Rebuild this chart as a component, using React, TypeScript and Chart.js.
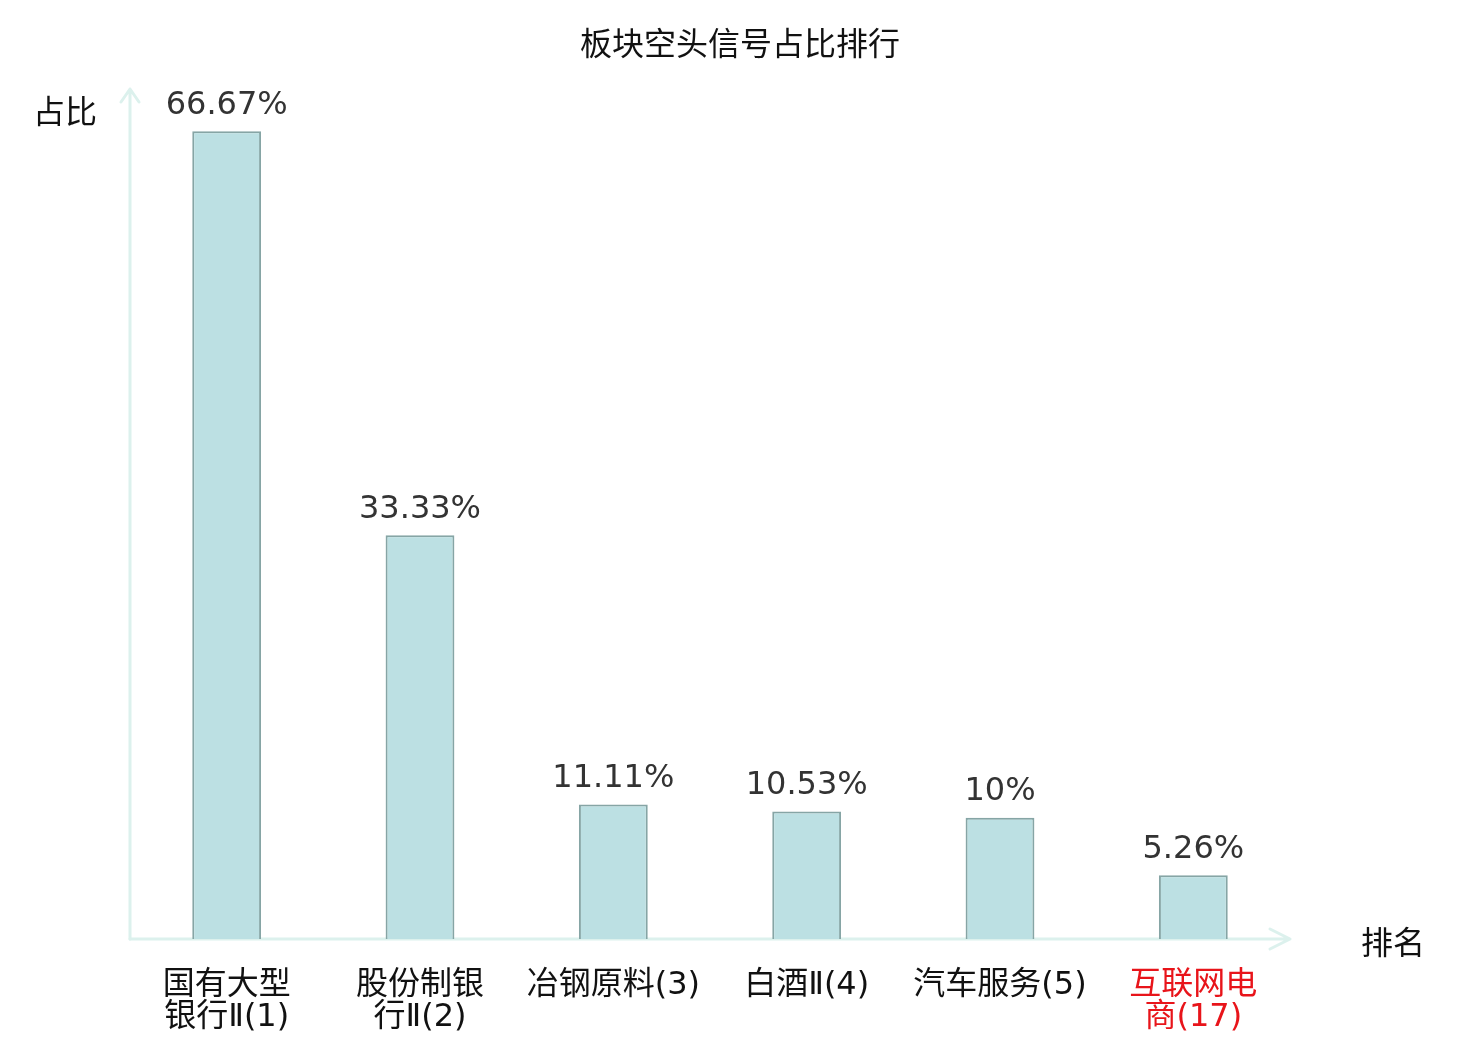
import { useRef, useEffect } from 'react';
import { Chart, registerables } from 'chart.js';
import type { Chart as ChartType, Plugin } from 'chart.js';

Chart.register(...registerables);

// 板块空头信号占比
const sectorLabels: (string | string[])[] = [
  ['国有大型', '银行Ⅱ(1)'],
  ['股份制银', '行Ⅱ(2)'],
  '冶钢原料(3)',
  '白酒Ⅱ(4)',
  '汽车服务(5)',
  ['互联网电', '商(17)'],
];
const shortRatio = [66.67, 33.33, 11.11, 10.53, 10, 5.26];
const highlightIndex = [5];

const TITLE = '板块空头信号占比排行';
const Y_NAME = '占比';
const X_NAME = '排名';

const FONT = '"DejaVu Sans", "Noto Sans CJK SC", sans-serif';
const CJK_FONT = '"Noto Sans CJK SC", "DejaVu Sans", sans-serif';
const AXIS_COLOR = '#dcf1ed';

const decorPlugin: Plugin<'bar'> = {
  id: 'decor',
  beforeDatasetsDraw(chart) {
    const { ctx, chartArea } = chart;
    const { left, right, top, bottom } = chartArea;
    ctx.save();
    ctx.strokeStyle = AXIS_COLOR;
    ctx.lineWidth = 3;
    ctx.lineCap = 'round';
    ctx.lineJoin = 'round';
    // y axis with arrow
    ctx.beginPath();
    ctx.moveTo(left, bottom);
    ctx.lineTo(left, top - 2);
    ctx.moveTo(left - 9, top + 11);
    ctx.lineTo(left, top - 2);
    ctx.lineTo(left + 9, top + 11);
    ctx.stroke();
    // x axis with arrow
    ctx.beginPath();
    ctx.moveTo(left, bottom);
    ctx.lineTo(right, bottom);
    ctx.moveTo(right - 20, bottom - 10);
    ctx.lineTo(right, bottom);
    ctx.lineTo(right - 20, bottom + 10);
    ctx.stroke();
    ctx.restore();
  },
  afterDatasetsDraw(chart) {
    const { ctx, chartArea } = chart;
    ctx.save();
    // value labels
    const meta = chart.getDatasetMeta(0);
    ctx.font = `32px ${FONT}`;
    ctx.fillStyle = '#333333';
    ctx.textAlign = 'center';
    ctx.textBaseline = 'bottom';
    meta.data.forEach((bar, i) => {
      ctx.fillText(`${shortRatio[i]}%`, bar.x, bar.y - 10);
    });
    // title + axis names
    ctx.font = `32px ${CJK_FONT}`;
    ctx.fillStyle = '#111111';
    ctx.textBaseline = 'middle';
    ctx.fillText(TITLE, chart.width / 2, 43);
    ctx.textAlign = 'left';
    ctx.fillText(Y_NAME, 33, 111);
    ctx.fillText(X_NAME, 1361, chartArea.bottom + 3);
    ctx.restore();
  },
};

const BarChart = () => {
  const canvasRef = useRef<HTMLCanvasElement | null>(null);
  const chartInstance = useRef<ChartType<'bar'> | null>(null);

  useEffect(() => {
    document.body.style.margin = '0';
    const canvas = canvasRef.current;
    if (!canvas) return;

    const existingChart = Chart.getChart(canvas);
    if (existingChart) existingChart.destroy();

    chartInstance.current = new Chart(canvas, {
      type: 'bar',
      data: {
        labels: sectorLabels,
        datasets: [
          {
            label: TITLE,
            data: shortRatio,
            backgroundColor: '#bce0e3',
            borderColor: '#86a5a5',
            borderWidth: 2,
            categoryPercentage: 1,
            barPercentage: 0.356,
          },
        ],
      },
      options: {
        animation: false,
        responsive: true,
        maintainAspectRatio: false,
        layout: { padding: { left: 130, right: 190, top: 91, bottom: 0 } },
        plugins: {
          legend: { display: false },
          tooltip: { enabled: false },
        },
        scales: {
          x: {
            grid: { display: false, drawTicks: false },
            border: { display: false },
            afterFit: (scale) => {
              scale.height = 101;
            },
            ticks: {
              padding: 31,
              autoSkip: false,
              maxRotation: 0,
              font: { family: FONT, size: 32, lineHeight: 1.0 },
              color: (c) => (highlightIndex.includes(c.index) ? '#e8141a' : '#111111'),
            },
          },
          y: {
            display: false,
            min: 0,
            max: 70,
          },
        },
      },
      plugins: [decorPlugin],
    });

    return () => {
      chartInstance.current?.destroy();
      chartInstance.current = null;
    };
  }, []);

  return (
    <div style={{ width: 1480, height: 1040, position: 'relative', background: '#ffffff' }}>
      <canvas ref={canvasRef} />
    </div>
  );
};

export default function App() {
  return <BarChart />;
}
